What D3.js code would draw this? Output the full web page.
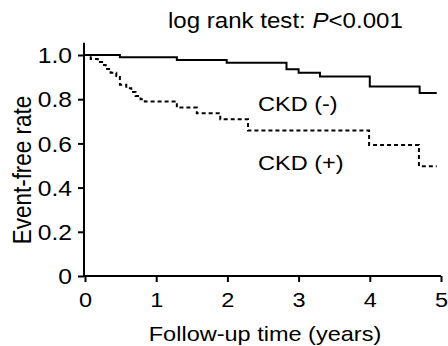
<!DOCTYPE html>
<html>
<head>
<meta charset="utf-8">
<script src="https://cdn.jsdelivr.net/npm/d3@7/dist/d3.min.js"></script>
<style>
body { margin: 0; background: #fff; }
text { font-family: "Liberation Sans", Arial, sans-serif; fill: #000; }
</style>
</head>
<body>
<script>
// Kaplan-Meier steps (time in years, event-free rate after the step)
var negTime = [0, 0.49, 1.29, 1.99, 2.83, 3.0, 3.3, 4.0, 4.7, 4.94];
var negRate = [1.0, 0.99, 0.977, 0.965, 0.935, 0.92, 0.903, 0.857, 0.828, 0.828];
var posTime = [0, 0.08, 0.18, 0.24, 0.29, 0.36, 0.44, 0.49, 0.58, 0.65, 0.71, 0.78, 0.84,
               1.29, 1.57, 1.9, 2.29, 3.99, 4.69, 4.94];
var posRate = [1.0, 0.982, 0.968, 0.955, 0.937, 0.92, 0.905, 0.865, 0.85, 0.833, 0.815, 0.8, 0.79,
               0.762, 0.736, 0.709, 0.658, 0.593, 0.497, 0.497];
var xTicks = [0, 1, 2, 3, 4, 5];
var yTicks = [0, 0.2, 0.4, 0.6, 0.8, 1.0];
var labels = ["CKD (-)", "CKD (+)"];

var width = 448, height = 346;
var sx = 1.12; // the picture is a bit wider than tall, text looks stretched
var svg = d3.select("body").append("svg")
  .attr("width", width)
  .attr("height", height);

var x = d3.scaleLinear().domain([0, 5]).range([85, 441]);
var y = d3.scaleLinear().domain([0, 1]).range([276, 55]);

// axes
var xAxis = svg.append("g").attr("transform", "translate(0,276)")
  .call(d3.axisBottom(x).tickValues(xTicks).tickFormat(d3.format("d")).tickSize(6).tickSizeOuter(0));
var yAxis = svg.append("g").attr("transform", "translate(84,0)")
  .call(d3.axisLeft(y).tickValues(yTicks).tickFormat(function(d) { return d == 0 ? "0" : d.toFixed(1); }).tickSize(6).tickSizeOuter(0));
// y axis runs a little above 1.0
yAxis.select(".domain").attr("d", "M0," + y(1.055) + "V" + (y(0) + 1));
xAxis.select(".domain").attr("d", "M" + (x(0) - 1) + ",0H" + x(5));
svg.selectAll(".domain").attr("stroke", "#000").attr("stroke-width", 2);
svg.selectAll(".tick line").attr("stroke", "#000").attr("stroke-width", 2);
svg.selectAll(".tick text").attr("font-family", null).attr("fill", "#000");

xAxis.selectAll(".tick text")
  .attr("font-size", 21).attr("y", 0).attr("dy", null)
  .attr("transform", "translate(0,31) scale(" + sx + ",1)");
yAxis.selectAll(".tick text")
  .attr("font-size", 22).attr("x", 0).attr("dy", "0.35em")
  .attr("transform", "translate(-12,0) scale(" + sx + ",1)");

// survival curves
function steps(t, r) { return t.map(function(d, i) { return [d, r[i]]; }); }
var line = d3.line()
  .x(function(d) { return x(d[0]); })
  .y(function(d) { return y(d[1]); })
  .curve(d3.curveStepAfter);

svg.append("path").datum(steps(negTime, negRate))
  .attr("d", line).attr("fill", "none")
  .attr("stroke", "#000").attr("stroke-width", 2);
svg.append("path").datum(steps(posTime, posRate))
  .attr("d", line).attr("fill", "none")
  .attr("stroke", "#000").attr("stroke-width", 2)
  .attr("stroke-dasharray", "4,3");

// texts
function label(txt, px, py, size, anchor) {
  return svg.append("text")
    .attr("transform", "translate(" + px + "," + py + ") scale(" + sx + ",1)")
    .attr("font-size", size)
    .attr("text-anchor", anchor)
    .text(txt);
}
var title = label("log rank test: ", 168, 28, 21.5, "start");
title.append("tspan").attr("font-style", "italic").text("P");
title.append("tspan").text("<0.001");

label(labels[0], 258, 111, 21, "start");
label(labels[1], 258, 170, 21, "start");
label("Follow-up time (years)", 265, 341, 21, "middle");

svg.append("text")
  .attr("transform", "translate(31,170) scale(" + sx + ",1) rotate(-90)")
  .attr("font-size", 22.5)
  .attr("text-anchor", "middle")
  .text("Event-free rate");
</script>
</body>
</html>
